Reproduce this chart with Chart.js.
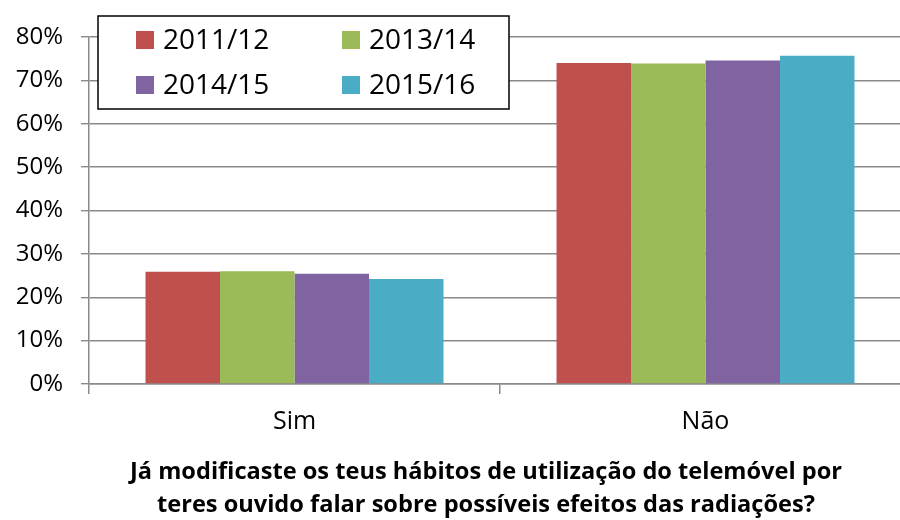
<!DOCTYPE html>
<html>
<head>
<meta charset="utf-8">
<script src="https://cdn.jsdelivr.net/npm/chart.js@4/dist/chart.umd.min.js"></script>
<style>
html,body{margin:0;padding:0;background:#fff;overflow:hidden;width:900px;height:520px;}
canvas{display:block;}
</style>
</head>
<body>
<canvas id="c" width="915" height="520"></canvas>
<script>
const categories = ['Sim', 'Não'];
const seriesLabels = ['2011/12', '2013/14', '2014/15', '2015/16'];
const v2011 = [25.9, 74.0];
const v2013 = [26.0, 73.9];
const v2014 = [25.4, 74.6];
const v2015 = [24.2, 75.7];
const yTicks = [0, 10, 20, 30, 40, 50, 60, 70, 80];
const titleLines = ['Já modificaste os teus hábitos de utilização do telemóvel por', 'teres ouvido falar sobre possíveis efeitos das radiações?'];

const colors = ['#C0504D', '#9BBB59', '#8064A2', '#4BACC6'];
const values = [v2011, v2013, v2014, v2015];
const FONT = '"Open Sans", "Noto Sans", sans-serif';

const boxLegend = {
  id: 'boxLegend',
  afterDraw(chart) {
    const ctx = chart.ctx;
    ctx.save();
    ctx.fillStyle = '#fff';
    ctx.fillRect(98, 16, 411, 93);
    ctx.strokeStyle = '#000';
    ctx.lineWidth = 1.5;
    ctx.strokeRect(98, 16, 411, 93);
    const pos = [[136, 31], [342, 31], [136, 76], [342, 76]];
    ctx.font = '28px ' + FONT;
    ctx.textBaseline = 'alphabetic';
    ctx.textAlign = 'left';
    chart.data.datasets.forEach((ds, i) => {
      const [x, y] = pos[i];
      ctx.fillStyle = ds.backgroundColor;
      ctx.fillRect(x, y, 18, 18);
      ctx.fillStyle = '#000';
      ctx.fillText(ds.label, x + 27, y + 18);
    });
    ctx.textAlign = 'center';
    let size = 24;
    ctx.font = 'bold ' + size + 'px ' + FONT;
    const w = ctx.measureText(titleLines[0]).width;
    size = size * 712 / w;
    ctx.font = 'bold ' + size.toFixed(2) + 'px ' + FONT;
    ctx.fillText(titleLines[0], 486, 479);
    ctx.fillText(titleLines[1], 486, 512);
    ctx.restore();
  }
};

new Chart(document.getElementById('c'), {
  type: 'bar',
  data: {
    labels: categories,
    datasets: seriesLabels.map((l, i) => ({
      label: l,
      data: values[i],
      backgroundColor: colors[i],
      borderWidth: 0,
      categoryPercentage: 0.725,
      barPercentage: 1.0
    }))
  },
  options: {
    responsive: false,
    animation: false,
    layout: { padding: { top: 37, right: 4, left: 0, bottom: 0 } },
    plugins: { legend: { display: false }, tooltip: { enabled: false }, title: { display: false } },
    scales: {
      x: {
        grid: { display: true, drawOnChartArea: false, drawTicks: true, tickLength: 10, color: '#8a8a8a', lineWidth: 1.5, offset: true },
        border: { display: true, color: '#8a8a8a', width: 1.5 },
        ticks: { color: '#000', font: { family: FONT, size: 25 }, padding: 13 },
        afterFit(s) { s.height = 136; }
      },
      y: {
        min: 0, max: 80,
        afterBuildTicks(s) { s.ticks = yTicks.map(v => ({ value: v })); },
        grid: { color: '#8a8a8a', lineWidth: 1.4, tickLength: 8 },
        border: { display: true, color: '#8a8a8a', width: 1.5 },
        ticks: { color: '#000', font: { family: FONT, size: 24 }, padding: 18, callback: v => v + '%' },
        afterFit(s) { s.width = 89; }
      }
    }
  },
  plugins: [boxLegend]
});
</script>
</body>
</html>
